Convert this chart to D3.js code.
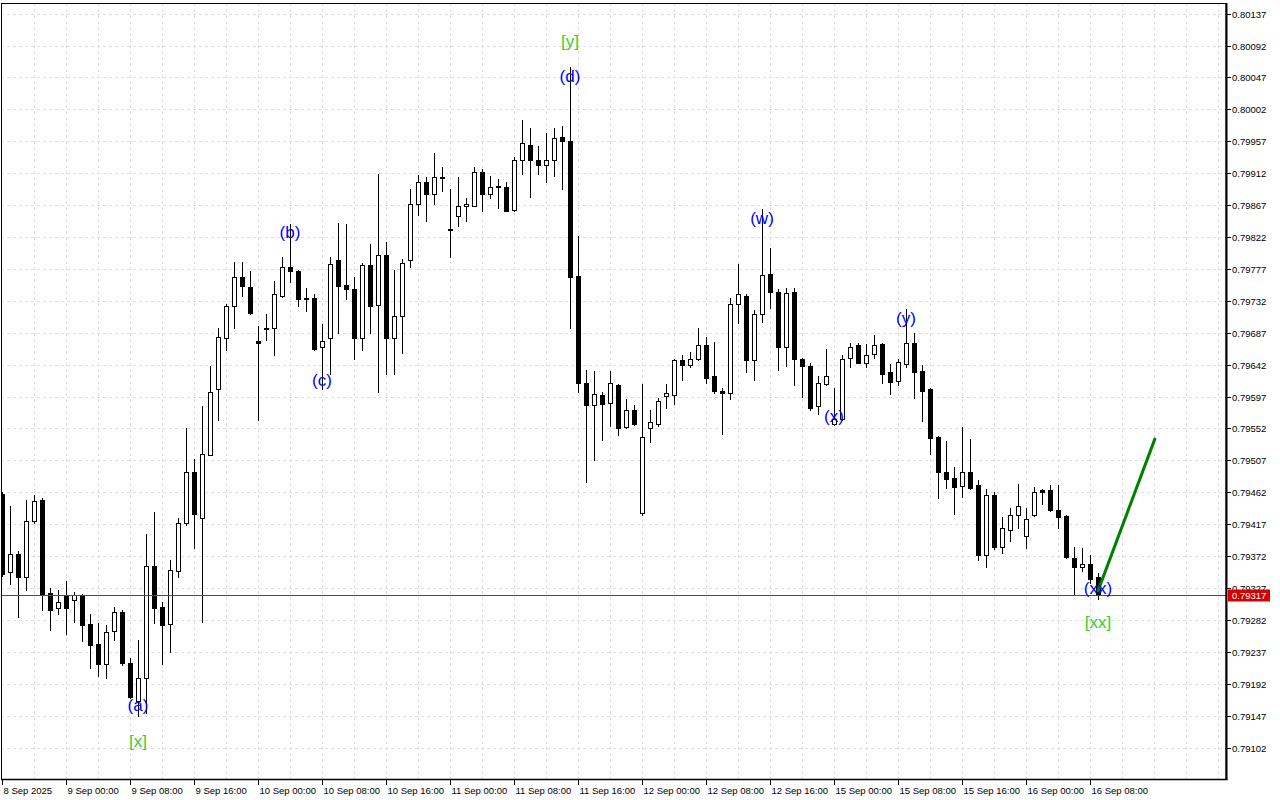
<!DOCTYPE html>
<html><head><meta charset="utf-8">
<script src="https://cdn.jsdelivr.net/npm/d3@7/dist/d3.min.js"></script>
<style>html,body{margin:0;padding:0;background:#fff;}svg{display:block;}</style>
</head><body>
<svg id="chart" width="1280" height="800"></svg>
<script>
// ---- DATA (H1 bars, 8 Sep 16:00 .. 16 Sep 09:00) ----
const open = [0.79460,0.79350,0.79375,0.79343,0.79422,0.79451,0.79320,0.79299,0.79317,0.79310,
0.79317,0.79276,0.79248,0.79220,0.79267,0.79293,0.79221,0.79168,0.79200,0.79358,
0.79300,0.79276,0.79351,0.79418,0.79491,0.79426,0.79515,0.79607,0.79680,0.79724,
0.79766,0.79752,0.79676,0.79692,0.79693,0.79739,0.79779,0.79774,0.79736,0.79736,
0.79667,0.79680,0.79789,0.79755,0.79749,0.79680,0.79783,0.79726,0.79797,0.79679,
0.79710,0.79789,0.79869,0.79899,0.79882,0.79907,0.79833,0.79852,0.79865,0.79866,
0.79913,0.79883,0.79892,0.79893,0.79860,0.79930,0.79952,0.79930,0.79923,0.79930,
0.79963,0.79958,0.79767,0.79616,0.79585,0.79599,0.79588,0.79614,0.79554,0.79578,
0.79433,0.79552,0.79559,0.79598,0.79599,0.79649,0.79642,0.79650,0.79669,0.79626,
0.79605,0.79602,0.79728,0.79739,0.79649,0.79714,0.79770,0.79745,0.79667,0.79745,
0.79650,0.79640,0.79583,0.79615,0.79559,0.79566,0.79652,0.79669,0.79645,0.79657,
0.79671,0.79631,0.79619,0.79643,0.79673,0.79633,0.79607,0.79540,0.79490,0.79482,
0.79471,0.79491,0.79472,0.79374,0.79458,0.79385,0.79409,0.79430,0.79401,0.79430,
0.79465,0.79465,0.79437,0.79429,0.79370,0.79357,0.79361,0.79343];
const high = [0.79463,0.79442,0.79379,0.79451,0.79458,0.79454,0.79327,0.79324,0.79337,0.79322,
0.79318,0.79291,0.79278,0.79275,0.79300,0.79296,0.79228,0.79254,0.79403,0.79434,
0.79308,0.79367,0.79426,0.79553,0.79509,0.79583,0.79640,0.79693,0.79728,0.79787,
0.79787,0.79774,0.79697,0.79714,0.79760,0.79794,0.79841,0.79775,0.79750,0.79741,
0.79700,0.79794,0.79842,0.79841,0.79765,0.79786,0.79812,0.79911,0.79815,0.79776,
0.79791,0.79890,0.79910,0.79907,0.79940,0.79920,0.79889,0.79907,0.79877,0.79920,
0.79918,0.79908,0.79904,0.79899,0.79935,0.79987,0.79975,0.79951,0.79969,0.79976,
0.79978,0.80061,0.79824,0.79635,0.79633,0.79604,0.79633,0.79615,0.79594,0.79585,
0.79615,0.79578,0.79595,0.79615,0.79650,0.79656,0.79660,0.79694,0.79681,0.79674,
0.79609,0.79736,0.79784,0.79742,0.79719,0.79862,0.79806,0.79748,0.79750,0.79750,
0.79651,0.79645,0.79626,0.79664,0.79609,0.79655,0.79673,0.79673,0.79671,0.79684,
0.79672,0.79643,0.79650,0.79721,0.79686,0.79642,0.79609,0.79541,0.79535,0.79497,
0.79554,0.79537,0.79480,0.79466,0.79463,0.79427,0.79440,0.79474,0.79440,0.79470,
0.79466,0.79472,0.79472,0.79430,0.79385,0.79384,0.79374,0.79348];
const low = [0.79344,0.79333,0.79286,0.79324,0.79418,0.79296,0.79268,0.79291,0.79262,0.79279,
0.79252,0.79214,0.79203,0.79200,0.79254,0.79219,0.79172,0.79147,0.79151,0.79278,
0.79220,0.79237,0.79343,0.79416,0.79384,0.79279,0.79514,0.79564,0.79663,0.79694,
0.79739,0.79714,0.79564,0.79677,0.79655,0.79738,0.79759,0.79724,0.79717,0.79663,
0.79607,0.79629,0.79687,0.79735,0.79650,0.79663,0.79687,0.79604,0.79629,0.79629,
0.79659,0.79779,0.79853,0.79844,0.79869,0.79887,0.79794,0.79838,0.79844,0.79865,
0.79858,0.79877,0.79863,0.79858,0.79859,0.79911,0.79879,0.79911,0.79900,0.79908,
0.79889,0.79694,0.79604,0.79477,0.79508,0.79536,0.79556,0.79543,0.79553,0.79557,
0.79430,0.79533,0.79556,0.79581,0.79587,0.79621,0.79638,0.79649,0.79616,0.79602,
0.79544,0.79594,0.79701,0.79632,0.79621,0.79702,0.79722,0.79635,0.79640,0.79614,
0.79597,0.79578,0.79573,0.79614,0.79557,0.79564,0.79638,0.79644,0.79639,0.79652,
0.79616,0.79601,0.79614,0.79638,0.79595,0.79563,0.79516,0.79454,0.79468,0.79432,
0.79456,0.79466,0.79367,0.79357,0.79382,0.79377,0.79394,0.79412,0.79384,0.79429,
0.79446,0.79436,0.79412,0.79370,0.79319,0.79351,0.79334,0.79312];
const close = [0.79347,0.79375,0.79343,0.79422,0.79450,0.79317,0.79296,0.79308,0.79299,0.79317,
0.79275,0.79247,0.79220,0.79265,0.79293,0.79221,0.79173,0.79200,0.79358,0.79299,
0.79275,0.79353,0.79418,0.79490,0.79432,0.79516,0.79604,0.79681,0.79725,0.79765,
0.79753,0.79715,0.79673,0.79693,0.79741,0.79779,0.79774,0.79735,0.79735,0.79664,
0.79676,0.79784,0.79753,0.79748,0.79680,0.79783,0.79725,0.79797,0.79679,0.79710,
0.79786,0.79869,0.79899,0.79882,0.79906,0.79906,0.79832,0.79865,0.79868,0.79913,
0.79883,0.79892,0.79894,0.79859,0.79930,0.79954,0.79930,0.79923,0.79930,0.79962,
0.79958,0.79766,0.79616,0.79585,0.79601,0.79587,0.79616,0.79553,0.79578,0.79559,
0.79540,0.79561,0.79591,0.79602,0.79649,0.79642,0.79650,0.79670,0.79623,0.79605,
0.79602,0.79728,0.79741,0.79649,0.79714,0.79769,0.79745,0.79667,0.79743,0.79650,
0.79640,0.79581,0.79616,0.79626,0.79566,0.79650,0.79667,0.79645,0.79656,0.79670,
0.79629,0.79618,0.79646,0.79673,0.79632,0.79605,0.79539,0.79491,0.79481,0.79470,
0.79490,0.79468,0.79374,0.79458,0.79385,0.79411,0.79430,0.79442,0.79425,0.79463,
0.79463,0.79437,0.79427,0.79371,0.79357,0.79361,0.79340,0.79317];

const timeLabels = ["8 Sep 2025","9 Sep 00:00","9 Sep 08:00","9 Sep 16:00","10 Sep 00:00","10 Sep 08:00",
"10 Sep 16:00","11 Sep 00:00","11 Sep 08:00","11 Sep 16:00","12 Sep 00:00","12 Sep 08:00",
"12 Sep 16:00","15 Sep 00:00","15 Sep 08:00","15 Sep 16:00","16 Sep 00:00","16 Sep 08:00"];
const barsPerTimeLabel = 8;
const priceTicks = [0.80137,0.80092,0.80047,0.80002,0.79957,0.79912,0.79867,0.79822,0.79777,0.79732,
0.79687,0.79642,0.79597,0.79552,0.79507,0.79462,0.79417,0.79372,0.79327,0.79282,0.79237,0.79192,0.79147,0.79102];
const lastPrice = 0.79317;

// wave labels
const waveText  = ["(a)","(b)","(c)","(d)","(w)","(x)","(y)","(xx)","[x]","[y]","[xx]"];
const waveBar   = [17,36,40,71,95,104,113,137,17,71,137];
const wavePrice = [0.79161,0.79828,0.79619,0.80048,0.79848,0.79569,0.79707,0.79326,0.79111,0.80098,0.79278];
const waveColor = ["blue","blue","blue","blue","blue","blue","blue","blue","green","green","green"];

// projection line
const projBar   = [137, 144.1];
const projPrice = [0.79323, 0.79537];

// ---- DRAW ----
const W = 1280, H = 800;
const plotRight = 1226, plotBottom = 779, plotTop = 3;
const svg = d3.select("#chart");
svg.append("rect").attr("width",W).attr("height",H).attr("fill","#fff");

const x = d3.scaleLinear().domain([0, 1]).range([2, 10]);
const y = d3.scaleLinear().domain([0.79102, 0.80137]).range([747.6, 13.6]);
const px = v => Math.round(x(v));
const py = v => Math.round(y(v));

const gridColor = "#dedede";
const grid = svg.append("g").attr("shape-rendering","crispEdges");
for (let i = 4; x(i) < plotRight - 2; i += 4) {
  grid.append("line").attr("x1", px(i)+0.5).attr("x2", px(i)+0.5)
    .attr("y1", plotTop).attr("y2", plotBottom)
    .attr("stroke", gridColor).attr("stroke-dasharray","3,3");
}
priceTicks.forEach(t => {
  grid.append("line").attr("x1", 1).attr("x2", plotRight)
    .attr("y1", py(t)+0.5).attr("y2", py(t)+0.5)
    .attr("stroke", gridColor).attr("stroke-dasharray","3,3");
});

svg.append("clipPath").attr("id","clip").append("rect")
  .attr("x",1).attr("y",plotTop).attr("width",plotRight-1).attr("height",plotBottom-plotTop);
const plot = svg.append("g").attr("clip-path","url(#clip)");

const bars = d3.range(open.length).map(i => ({i, o:open[i], h:high[i], l:low[i], c:close[i]}));
const g = plot.append("g").attr("shape-rendering","crispEdges");
bars.forEach(b => {
  const cx = px(b.i);
  g.append("line").attr("x1",cx+0.5).attr("x2",cx+0.5)
    .attr("y1",py(b.h)).attr("y2",py(b.l)+1).attr("stroke","#000").attr("stroke-width",1);
  const top = py(Math.max(b.o,b.c)), bot = py(Math.min(b.o,b.c));
  if (b.c >= b.o) {
    g.append("rect").attr("x",cx-1.5).attr("y",top+0.5).attr("width",4)
      .attr("height",Math.max(bot-top,1)).attr("fill","#fff").attr("stroke","#000").attr("stroke-width",1);
  } else {
    g.append("rect").attr("x",cx-2).attr("y",top).attr("width",5)
      .attr("height",Math.max(bot-top+1,2)).attr("fill","#000");
  }
});

// current price line (on top of bars, as in the terminal)
plot.append("line").attr("x1",1).attr("x2",plotRight)
  .attr("y1", py(lastPrice)+0.5).attr("y2", py(lastPrice)+0.5)
  .attr("stroke","#ff0000").attr("stroke-width",1).attr("shape-rendering","crispEdges");

// projection line
plot.append("line")
  .attr("x1", x(projBar[0])).attr("y1", y(projPrice[0]))
  .attr("x2", x(projBar[1])).attr("y2", y(projPrice[1]))
  .attr("stroke","#008000").attr("stroke-width",3).attr("stroke-linecap","round");

// wave labels
const colorMap = {blue:"#0000ff", green:"#32cd32"};
waveText.forEach((t,k) => {
  plot.append("text").attr("x", x(waveBar[k])).attr("y", y(wavePrice[k]))
    .attr("text-anchor","middle").attr("dominant-baseline","central")
    .attr("font-family","Liberation Sans, Arial, sans-serif").attr("font-size",17)
    .attr("fill", colorMap[waveColor[k]]).text(t);
});

// frame
svg.append("rect").attr("x",1.5).attr("y",plotTop+0.5).attr("width",plotRight-1.5).attr("height",plotBottom-plotTop)
  .attr("fill","none").attr("stroke","#000").attr("stroke-width",1);
svg.append("line").attr("x1",plotRight+0.5).attr("x2",plotRight+0.5).attr("y1",plotTop).attr("y2",plotBottom+1)
  .attr("stroke","#000").attr("stroke-width",2);
svg.append("line").attr("x1",1).attr("x2",plotRight+1.5).attr("y1",plotBottom+0.5).attr("y2",plotBottom+0.5)
  .attr("stroke","#000").attr("stroke-width",1.5);

// price axis
const font = "Liberation Sans, Arial, sans-serif";
priceTicks.forEach(t => {
  const yy = py(t)+0.5;
  svg.append("line").attr("x1",plotRight+1).attr("x2",plotRight+5).attr("y1",yy).attr("y2",yy).attr("stroke","#000");
  svg.append("text").attr("x",plotRight+6).attr("y",yy).attr("dominant-baseline","central")
    .attr("font-family",font).attr("font-size",9.5).attr("fill","#000").text(t.toFixed(5));
});
// current price tag
const ly = py(lastPrice)+0.5;
svg.append("rect").attr("x",plotRight+2).attr("y",ly-6).attr("width",42).attr("height",12).attr("fill","#d40000");
svg.append("text").attr("x",plotRight+6).attr("y",ly).attr("dominant-baseline","central")
  .attr("font-family",font).attr("font-size",9.5).attr("fill","#fff").text(lastPrice.toFixed(5));

// time axis
timeLabels.forEach((t,k) => {
  const xx = px(k*barsPerTimeLabel)+0.5;
  svg.append("line").attr("x1",xx).attr("x2",xx).attr("y1",plotBottom).attr("y2",plotBottom+6).attr("stroke","#000");
  svg.append("text").attr("x",xx+1).attr("y",794)
    .attr("font-family",font).attr("font-size",9.5).attr("fill","#000").text(t);
});
</script>
</body></html>
